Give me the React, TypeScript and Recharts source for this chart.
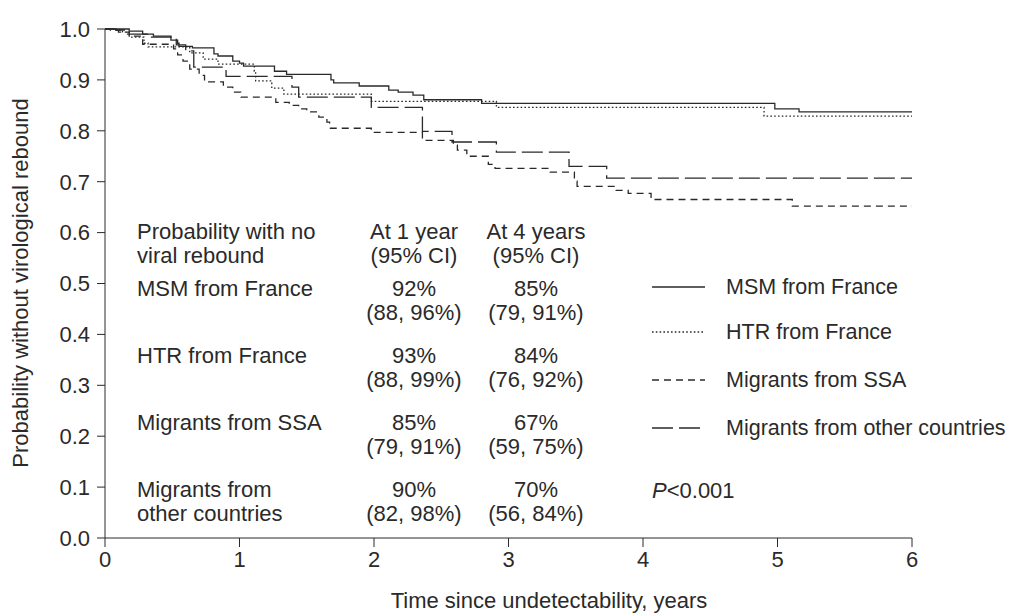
import { Line, LineChart, XAxis, YAxis } from "recharts"

// survival estimates (time in years, probability)
const msmTime = [0, 0.18, 0.28, 0.36, 0.49, 0.54, 0.55, 0.65, 0.81, 0.84, 0.95, 1.0, 1.03, 1.26, 1.35, 1.68, 1.7, 1.89, 2.11, 2.18, 2.29, 2.37, 2.8, 4.98, 5.16, 6.0]
const msmSurv = [1.0, 0.996, 0.99, 0.986, 0.978, 0.972, 0.966, 0.963, 0.951, 0.947, 0.937, 0.933, 0.927, 0.917, 0.911, 0.9, 0.894, 0.888, 0.88, 0.876, 0.87, 0.861, 0.854, 0.843, 0.837, 0.837]

const htrTime = [0, 0.07, 0.13, 0.18, 0.29, 0.32, 0.63, 0.73, 0.84, 1.11, 1.12, 1.24, 1.33, 1.98, 2.91, 4.9, 6.0]
const htrSurv = [1.0, 0.998, 0.994, 0.984, 0.972, 0.965, 0.953, 0.941, 0.931, 0.917, 0.898, 0.884, 0.872, 0.858, 0.846, 0.829, 0.829]

const ssaTime = [0, 0.04, 0.1, 0.18, 0.28, 0.51, 0.54, 0.58, 0.63, 0.7, 0.74, 0.88, 0.95, 1.01, 1.27, 1.37, 1.44, 1.5, 1.59, 1.65, 1.67, 1.98, 2.36, 2.59, 2.62, 2.69, 2.85, 2.9, 3.31, 3.49, 3.51, 3.8, 3.89, 4.06, 5.11, 6.0]
const ssaSurv = [1.0, 0.998, 0.994, 0.986, 0.97, 0.961, 0.949, 0.937, 0.921, 0.909, 0.896, 0.886, 0.876, 0.866, 0.856, 0.85, 0.843, 0.837, 0.827, 0.817, 0.805, 0.797, 0.781, 0.772, 0.762, 0.75, 0.734, 0.726, 0.719, 0.701, 0.691, 0.683, 0.677, 0.665, 0.652, 0.652]

const otherTime = [0, 0.08, 0.16, 0.34, 0.53, 0.6, 0.66, 0.9, 1.39, 1.44, 1.98, 2.36, 2.58, 2.91, 3.45, 3.73, 6.0]
const otherSurv = [1.0, 0.998, 0.99, 0.984, 0.969, 0.957, 0.925, 0.907, 0.886, 0.866, 0.846, 0.799, 0.778, 0.758, 0.73, 0.707, 0.707]

const xTicks = [0, 1, 2, 3, 4, 5, 6]
const yTicks = [0, 0.1, 0.2, 0.3, 0.4, 0.5, 0.6, 0.7, 0.8, 0.9, 1.0]

// table in the plot
const groupLabels = [["MSM from France"], ["HTR from France"], ["Migrants from SSA"], ["Migrants from", "other countries"]]
const at1Year = ["92%", "93%", "85%", "90%"]
const ci1Year = ["(88, 96%)", "(88, 99%)", "(79, 91%)", "(82, 98%)"]
const at4Year = ["85%", "84%", "67%", "70%"]
const ci4Year = ["(79, 91%)", "(76, 92%)", "(59, 75%)", "(56, 84%)"]
const legendNames = ["MSM from France", "HTR from France", "Migrants from SSA", "Migrants from other countries"]

const toRows = (t: number[], s: number[]) => t.map((x, i) => ({ t: x, s: s[i] }))

const FONT = "'Liberation Sans', Arial, Helvetica, sans-serif"
const INK = "#2a2a2a"
const FS = 22

const series = [
  { name: legendNames[0], data: toRows(msmTime, msmSurv), dash: undefined },
  { name: legendNames[1], data: toRows(htrTime, htrSurv), dash: "1.6 2.2" },
  { name: legendNames[2], data: toRows(ssaTime, ssaSurv), dash: "7 5" },
  { name: legendNames[3], data: toRows(otherTime, otherSurv), dash: "21 6" },
]

const rowY = [288, 355, 422, 489]
const legendY = [287, 332, 380, 428]

function Overlay() {
  const txt = { fontFamily: FONT, fontSize: FS, fill: INK }
  return (
    <svg width={1011} height={616} style={{ position: "absolute", left: 0, top: 0, pointerEvents: "none" }}>
      <text {...txt} x={549} y={600} textAnchor="middle" dominantBaseline="central">
        Time since undetectability, years
      </text>
      <text {...txt} transform="translate(20,283) rotate(-90)" textAnchor="middle" dominantBaseline="central">
        Probability without virological rebound
      </text>

      <text {...txt} x={137} y={231} dominantBaseline="central">Probability with no</text>
      <text {...txt} x={137} y={255} dominantBaseline="central">viral rebound</text>
      <text {...txt} x={414} y={231} textAnchor="middle" dominantBaseline="central">At 1 year</text>
      <text {...txt} x={414} y={255} textAnchor="middle" dominantBaseline="central">(95% CI)</text>
      <text {...txt} x={536} y={231} textAnchor="middle" dominantBaseline="central">At 4 years</text>
      <text {...txt} x={536} y={255} textAnchor="middle" dominantBaseline="central">(95% CI)</text>

      {groupLabels.map((lines, i) => (
        <g key={i}>
          {lines.map((l, j) => (
            <text key={j} {...txt} x={137} y={rowY[i] + j * 24} dominantBaseline="central">{l}</text>
          ))}
          <text {...txt} x={414} y={rowY[i]} textAnchor="middle" dominantBaseline="central">{at1Year[i]}</text>
          <text {...txt} x={414} y={rowY[i] + 24} textAnchor="middle" dominantBaseline="central">{ci1Year[i]}</text>
          <text {...txt} x={536} y={rowY[i]} textAnchor="middle" dominantBaseline="central">{at4Year[i]}</text>
          <text {...txt} x={536} y={rowY[i] + 24} textAnchor="middle" dominantBaseline="central">{ci4Year[i]}</text>
        </g>
      ))}

      {series.map((s, i) => (
        <g key={s.name}>
          <line x1={652} x2={705} y1={legendY[i]} y2={legendY[i]} stroke={INK} strokeWidth={1.3} strokeDasharray={s.dash} />
          <text {...txt} fontSize={21.5} x={726} y={legendY[i]} dominantBaseline="central">{s.name}</text>
        </g>
      ))}

      <text {...txt} x={652} y={490} dominantBaseline="central">
        <tspan fontStyle="italic">P</tspan>&lt;0.001
      </text>
    </svg>
  )
}

export default function App() {
  return (
    <div style={{ position: "absolute", left: 0, top: 0, width: 1011, height: 616, background: "#fff" }}>
      <LineChart width={1011} height={616} margin={{ top: 29, right: 99, bottom: 28, left: 0 }}>
        <XAxis
          type="number"
          dataKey="t"
          domain={[0, 6]}
          ticks={xTicks}
          allowDuplicatedCategory={false}
          height={50}
          tickSize={9}
          tickMargin={4}
          stroke={INK}
          tick={{ fill: INK, fontSize: FS, fontFamily: FONT }}
        />
        <YAxis
          type="number"
          domain={[0, 1]}
          ticks={yTicks}
          width={105}
          tickSize={8}
          tickMargin={7}
          stroke={INK}
          tickFormatter={(v: number) => v.toFixed(1)}
          tick={{ fill: INK, fontSize: FS, fontFamily: FONT }}
        />
        {series.map((s) => (
          <Line
            key={s.name}
            data={s.data}
            dataKey="s"
            name={s.name}
            type="stepAfter"
            stroke={INK}
            strokeWidth={1.3}
            strokeDasharray={s.dash}
            dot={false}
            activeDot={false}
            isAnimationActive={false}
          />
        ))}
      </LineChart>
      <Overlay />
    </div>
  )
}
